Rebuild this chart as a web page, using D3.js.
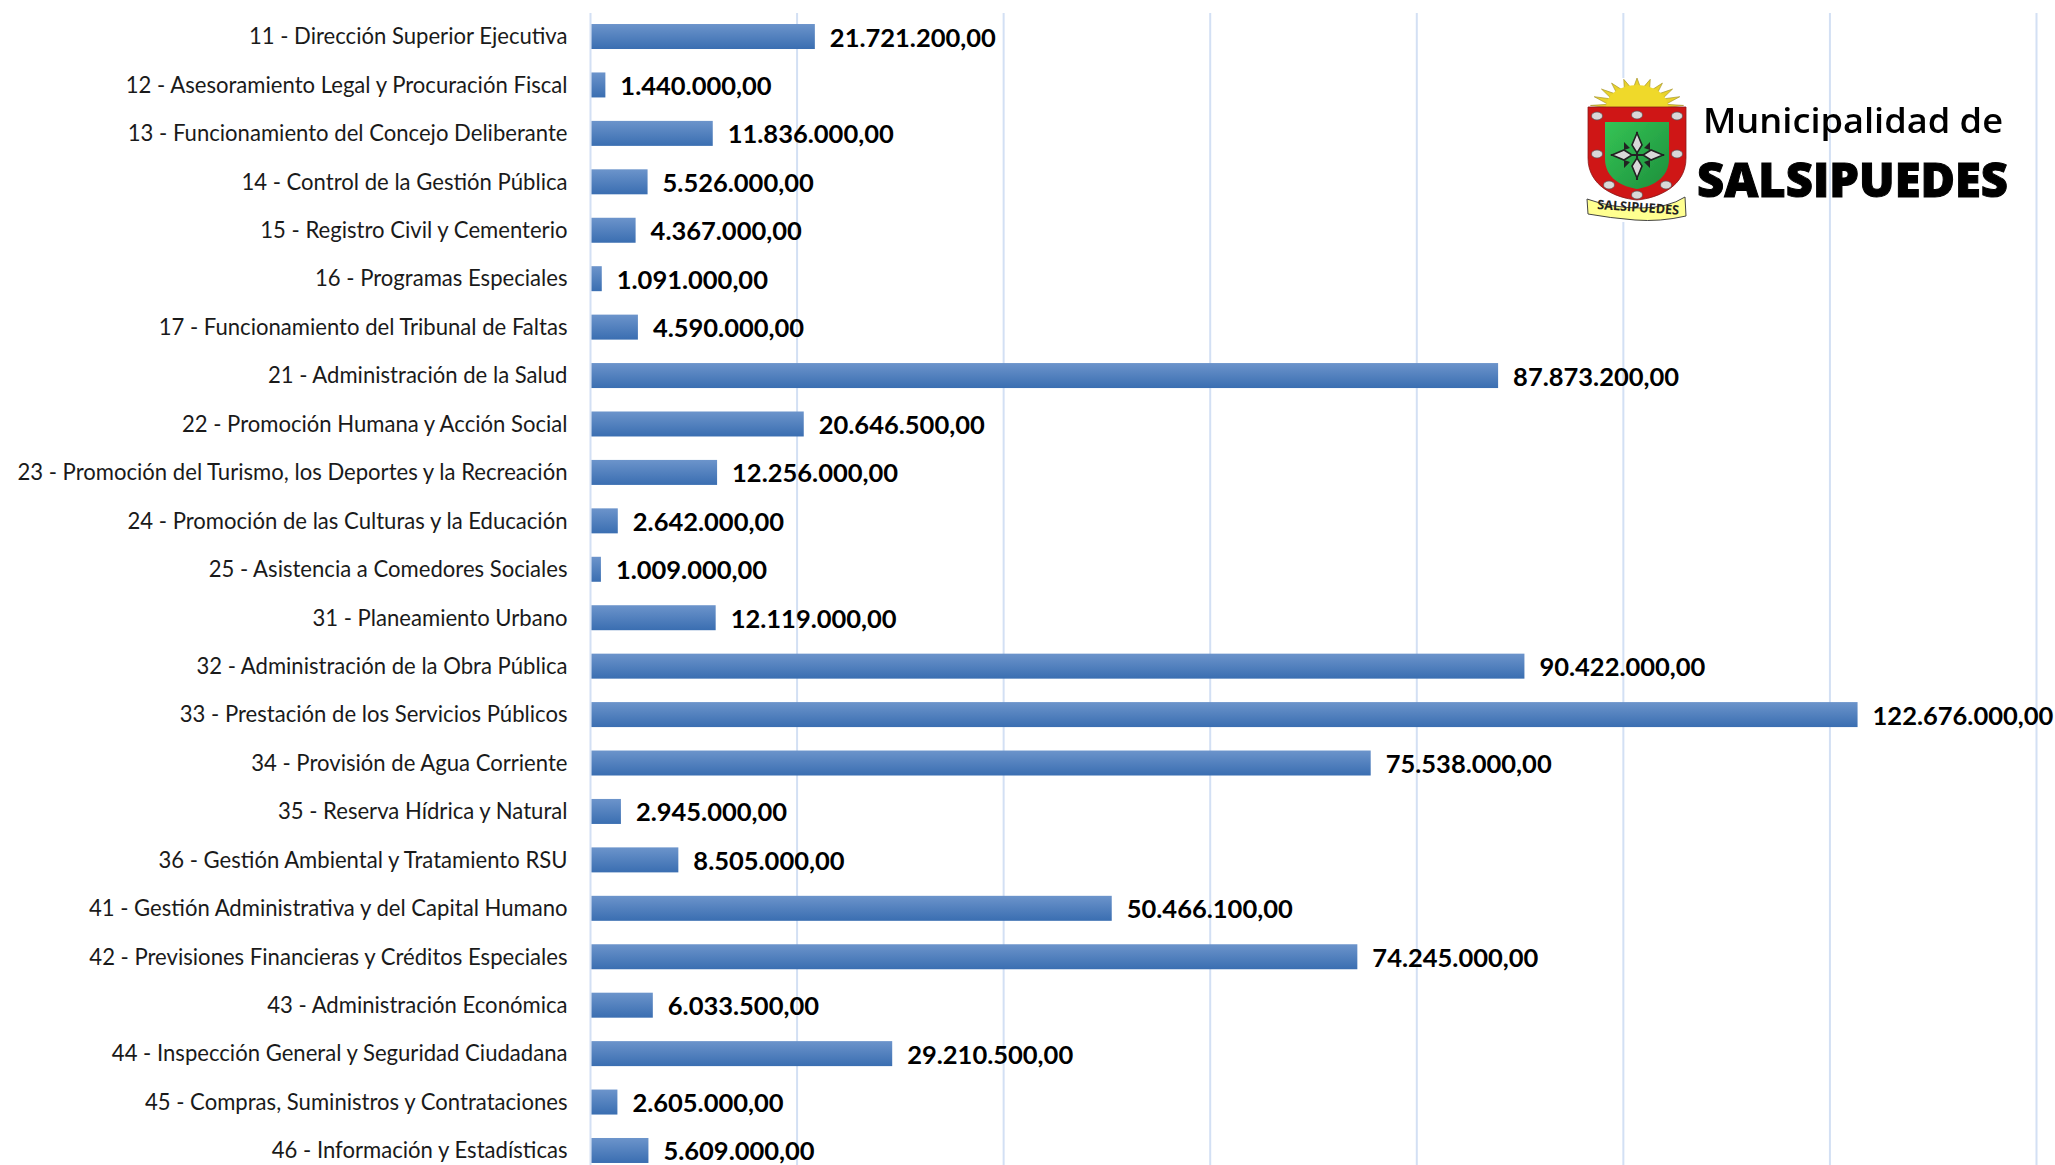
<!DOCTYPE html>
<html><head><meta charset="utf-8">
<script src="https://cdn.jsdelivr.net/npm/d3@7/dist/d3.min.js"></script>
<style>html,body{margin:0;background:#fff;overflow:hidden}svg{display:block}</style>
</head><body><svg id="c" width="2055" height="1165"></svg>
<script>
const categories = [
"11 - Dirección Superior Ejecutiva","12 - Asesoramiento Legal y Procuración Fiscal","13 - Funcionamiento del Concejo Deliberante",
"14 - Control de la Gestión Pública","15 - Registro Civil y Cementerio","16 - Programas Especiales",
"17 - Funcionamiento del Tribunal de Faltas","21 - Administración de la Salud","22 - Promoción Humana y Acción Social",
"23 - Promoción del Turismo, los Deportes y la Recreación","24 - Promoción de las Culturas y la Educación","25 - Asistencia a Comedores Sociales",
"31 - Planeamiento Urbano","32 - Administración de la Obra Pública","33 - Prestación de los Servicios Públicos",
"34 - Provisión de Agua Corriente","35 - Reserva Hídrica y Natural","36 - Gestión Ambiental y Tratamiento RSU",
"41 - Gestión Administrativa y del Capital Humano","42 - Previsiones Financieras y Créditos Especiales","43 - Administración Económica",
"44 - Inspección General y Seguridad Ciudadana","45 - Compras, Suministros y Contrataciones","46 - Información y Estadísticas"];
const values = [21721200,1440000,11836000,5526000,4367000,1091000,4590000,87873200,20646500,12256000,2642000,1009000,
12119000,90422000,122676000,75538000,2945000,8505000,50466100,74245000,6033500,29210500,2605000,5609000];
const gridTicks = [0,20e6,40e6,60e6,80e6,100e6,120e6,140e6];

const svg = d3.select("#c");
const x = d3.scaleLinear().domain([0,140e6]).range([590.5,2036.5]);
const y = d3.scaleBand().domain(categories).range([12.3,1174.7]).paddingInner(0.484).paddingOuter(0.242);
const fmt = d3.formatLocale({decimal:",",thousands:".",grouping:[3],currency:["$",""]}).format(",.2f");

const defs = svg.append("defs");
const g = defs.append("linearGradient").attr("id","bar").attr("x1",0).attr("x2",0).attr("y1",0).attr("y2",1);
g.append("stop").attr("offset","0%").attr("stop-color","#6c94cb");
g.append("stop").attr("offset","100%").attr("stop-color","#3a6eb1");
defs.append("filter").attr("id","soft").append("feGaussianBlur").attr("stdDeviation",0.6);

svg.append("g").selectAll("line").data(gridTicks).join("line")
  .attr("x1",d=>x(d)).attr("x2",d=>x(d)).attr("y1",13).attr("y2",1165)
  .attr("stroke","#d3e0f4").attr("stroke-width",2);

svg.append("g").selectAll("rect").data(values).join("rect")
  .attr("x",x(0)+1).attr("y",(d,i)=>y(categories[i])).attr("width",d=>x(d)-x(0)-1).attr("height",y.bandwidth())
  .attr("fill","url(#bar)");

svg.append("g").selectAll("text").data(categories).join("text")
  .attr("x",567.5).attr("y",d=>y(d)+y.bandwidth()/2+7.8).attr("text-anchor","end")
  .attr("font-family","Lato, 'Open Sans', sans-serif").attr("font-size",22.1).attr("fill","#1a1a1a").text(d=>d);

svg.append("g").selectAll("text").data(values).join("text")
  .attr("x",d=>x(d)+15).attr("y",(d,i)=>y(categories[i])+y.bandwidth()/2+10)
  .attr("font-family","Lato, 'Open Sans', sans-serif").attr("font-weight",700).attr("font-size",25.5).attr("fill","#000").text(d=>fmt(d));

// logo
const logo = svg.append("g");
logo.append("rect").attr("x",1585).attr("y",78).attr("width",103).attr("height",144).attr("fill","#fff");
const art = logo.append("g").attr("filter","url(#soft)");
const sun = d3.range(11).map(i=>{
  const a0 = Math.PI*(i/11), a1 = Math.PI*((i+.5)/11), a2 = Math.PI*((i+1)/11);
  const cx=1637, cy=110;
  const p=(r,a)=>[cx-r*Math.cos(a), Math.min(107.5,cy-r*Math.sin(a)*0.68)].join(",");
  return `M${p(30,a0)}L${p(47,a1)}L${p(30,a2)}Z`;
}).join("");
art.append("path").attr("d",sun).attr("fill","#e9d32a").attr("stroke","#a8962c").attr("stroke-width",.7);
art.append("path").attr("d","M1606,107 A31,22 0 0 1 1668,107 Z").attr("fill","#efd92c");
const shield = (l,r,t,b)=>`M${l},${t}H${r}V${t+(b-t)*.55}C${r},${t+(b-t)*.85} ${l+(r-l)*.72},${b-2} ${(l+r)/2},${b}C${l+(r-l)*.28},${b-2} ${l},${t+(b-t)*.85} ${l},${t+(b-t)*.55}Z`;
art.append("path").attr("d",shield(1588,1686,107,200)).attr("fill","#cf1518").attr("stroke","#8a1a1a").attr("stroke-width",.8);
const grn = defs.append("linearGradient").attr("id","grn").attr("x1",0).attr("x2",1).attr("y1",0).attr("y2",1);
grn.append("stop").attr("offset","0%").attr("stop-color","#35c455");
grn.append("stop").attr("offset","100%").attr("stop-color","#1d8f3c");
art.append("path").attr("d",shield(1605,1669,122,189)).attr("fill","url(#grn)");
[[1597,116],[1637,115],[1677,116],[1597,154],[1677,154],[1609,185],[1637,195],[1666,185]].forEach(p=>{
  art.append("ellipse").attr("cx",p[0]).attr("cy",p[1]).attr("rx",5.5).attr("ry",4).attr("fill","#d9d9d9").attr("stroke","#555").attr("stroke-width",.7);
});
art.append("path").attr("d","M1637,132V180M1611,155H1664").attr("stroke","#222").attr("stroke-width",2);
art.append("path").attr("d","M1637,133l-5,12 5,8 5,-8ZM1637,178l-5,-12 5,-8 5,8ZM1612,155l12,-5 8,5 -8,5ZM1663,155l-12,-5 -8,5 8,5Z")
  .attr("fill","#d8d8d8").attr("stroke","#222").attr("stroke-width",1.6);
art.append("path").attr("d","M1624,142l6,6 -6,2ZM1650,142l-6,6 6,2ZM1624,168l6,-6 -6,-2ZM1650,168l-6,-6 6,-2Z").attr("fill","#222");
art.append("path").attr("d","M1587,199Q1612,208 1640,208T1685,197L1686,216Q1660,222 1635,220T1588,214Z")
  .attr("fill","#ffff90").attr("stroke","#444").attr("stroke-width",1);
logo.append("text").attr("font-family","'Open Sans',sans-serif").attr("font-weight",700).attr("font-size",13)
  .attr("fill","#222").attr("transform","translate(1597,209) rotate(4)").attr("textLength",82).attr("lengthAdjust","spacingAndGlyphs").text("SALSIPUEDES");
logo.append("text").attr("x",1703).attr("y",133).attr("font-family","'Open Sans',sans-serif").attr("font-size",35)
  .attr("font-weight",600).attr("fill","#000").attr("textLength",300).attr("lengthAdjust","spacingAndGlyphs").attr("filter","url(#soft)").text("Municipalidad de");
logo.append("text").attr("x",1697).attr("y",197).attr("font-family","'Open Sans',sans-serif").attr("font-size",47)
  .attr("font-weight",800).attr("fill","#000").attr("stroke","#000").attr("stroke-width",1).attr("textLength",311).attr("lengthAdjust","spacingAndGlyphs").attr("filter","url(#soft)").text("SALSIPUEDES");
</script></body></html>
